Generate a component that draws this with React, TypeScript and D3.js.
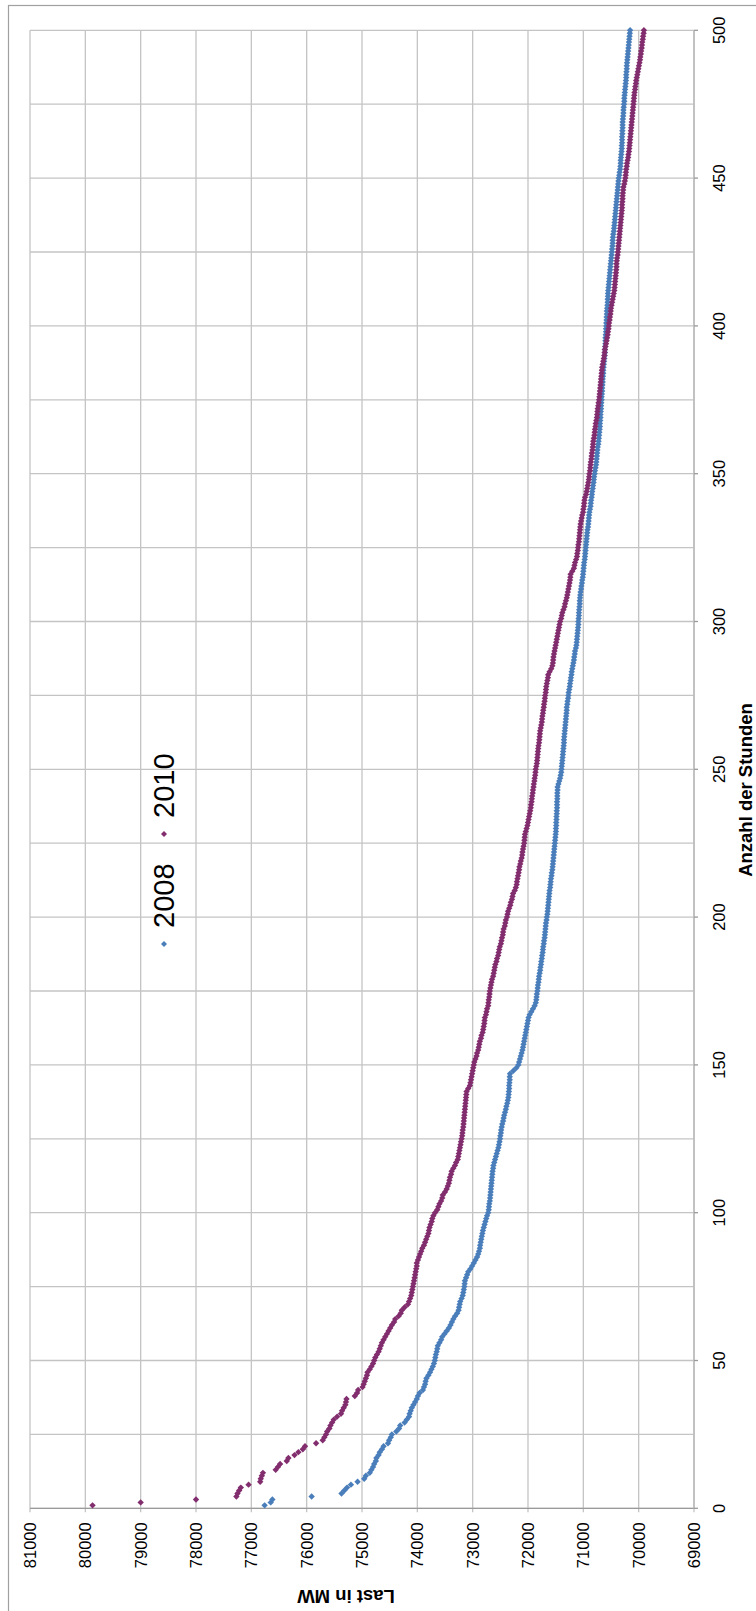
import React, { useEffect, useRef } from "react";
import * as d3 from "d3";

// Last (MW) der 500 höchstbelasteten Stunden, Stunde 1..500
const load2008 = [
  76760, 76650, 76620, 75910, 75370, 75320, 75270, 75200, 75080, 74960,
  74930, 74860, 74830, 74800, 74780, 74750, 74740, 74700, 74680, 74640,
  74610, 74530, 74510, 74480, 74460, 74380, 74330, 74310, 74230, 74190,
  74150, 74140, 74120, 74100, 74070, 74040, 74010, 73990, 73960, 73900,
  73880, 73860, 73850, 73835, 73800, 73770, 73745, 73720, 73700, 73685,
  73675, 73665, 73650, 73640, 73630, 73600, 73570, 73550, 73510, 73470,
  73430, 73400, 73375, 73350, 73320, 73280, 73255, 73245, 73235, 73225,
  73200, 73180, 73170, 73160, 73150, 73145, 73140, 73120, 73100, 73080,
  73040, 73010, 72980, 72950, 72920, 72900, 72885, 72870, 72865, 72855,
  72845, 72835, 72825, 72815, 72800, 72785, 72770, 72755, 72740, 72720,
  72710, 72705, 72700, 72690, 72685, 72680, 72675, 72670, 72665, 72660,
  72655, 72650, 72645, 72640, 72630, 72625, 72610, 72595, 72580, 72565,
  72550, 72535, 72525, 72515, 72505, 72500, 72490, 72485, 72475, 72465,
  72450, 72440, 72430, 72415, 72400, 72390, 72375, 72365, 72355, 72350,
  72345, 72340, 72340, 72335, 72330, 72330, 72325, 72265, 72210, 72175,
  72160, 72145, 72130, 72115, 72100, 72090, 72080, 72070, 72060, 72050,
  72040, 72030, 72020, 72010, 72000, 71990, 71970, 71940, 71910, 71880,
  71860, 71850, 71845, 71840, 71830, 71825, 71820, 71810, 71805, 71800,
  71790, 71780, 71775, 71765, 71760, 71750, 71745, 71735, 71730, 71725,
  71715, 71710, 71700, 71695, 71690, 71685, 71680, 71675, 71665, 71660,
  71650, 71645, 71640, 71635, 71630, 71625, 71620, 71615, 71610, 71600,
  71595, 71590, 71585, 71575, 71570, 71560, 71555, 71550, 71545, 71540,
  71535, 71530, 71525, 71520, 71515, 71510, 71505, 71500, 71495, 71495,
  71490, 71490, 71485, 71485, 71480, 71480, 71475, 71475, 71475, 71470,
  71470, 71470, 71465, 71465, 71450, 71435, 71420, 71410, 71400, 71395,
  71390, 71385, 71380, 71375, 71370, 71365, 71360, 71355, 71350, 71350,
  71345, 71340, 71335, 71330, 71325, 71320, 71315, 71310, 71305, 71300,
  71300, 71290, 71285, 71275, 71270, 71265, 71255, 71245, 71240, 71230,
  71225, 71215, 71210, 71200, 71190, 71180, 71170, 71165, 71155, 71150,
  71135, 71125, 71120, 71115, 71110, 71105, 71100, 71095, 71090, 71090,
  71085, 71080, 71080, 71075, 71070, 71065, 71065, 71060, 71055, 71050,
  71040, 71035, 71025, 71020, 71010, 71005, 71000, 70995, 70990, 70985,
  70975, 70970, 70965, 70960, 70955, 70950, 70945, 70940, 70935, 70930,
  70925, 70915, 70910, 70905, 70900, 70895, 70890, 70880, 70870, 70865,
  70860, 70850, 70845, 70840, 70830, 70825, 70815, 70810, 70805, 70795,
  70790, 70780, 70770, 70765, 70760, 70755, 70750, 70745, 70740, 70730,
  70725, 70720, 70715, 70710, 70705, 70700, 70700, 70695, 70690, 70690,
  70685, 70680, 70680, 70675, 70670, 70670, 70665, 70660, 70660, 70655,
  70650, 70650, 70645, 70640, 70640, 70635, 70630, 70625, 70620, 70615,
  70610, 70610, 70605, 70600, 70600, 70600, 70595, 70590, 70590, 70585,
  70585, 70580, 70580, 70575, 70575, 70570, 70565, 70560, 70560, 70555,
  70555, 70550, 70545, 70540, 70535, 70530, 70525, 70520, 70515, 70510,
  70505, 70500, 70495, 70490, 70485, 70480, 70475, 70470, 70470, 70465,
  70460, 70450, 70445, 70440, 70435, 70430, 70425, 70420, 70415, 70410,
  70405, 70400, 70395, 70390, 70385, 70380, 70375, 70370, 70365, 70360,
  70350, 70345, 70335, 70330, 70325, 70325, 70320, 70315, 70310, 70305,
  70305, 70300, 70300, 70300, 70295, 70295, 70290, 70290, 70290, 70285,
  70280, 70275, 70275, 70270, 70265, 70260, 70260, 70255, 70250, 70245,
  70240, 70235, 70230, 70225, 70225, 70220, 70215, 70215, 70210, 70205,
  70200, 70195, 70190, 70185, 70180, 70175, 70170, 70165, 70160, 70155,
];

const load2010 = [
  79870, 79000, 78000, 77270, 77250, 77220, 77190, 77050, 76840, 76830,
  76810, 76790, 76560, 76520, 76480, 76360, 76330, 76220, 76150, 76070,
  76030, 75830, 75710, 75680, 75650, 75630, 75590, 75570, 75540, 75510,
  75450, 75380, 75360, 75330, 75300, 75290, 75280, 75130, 75090, 75070,
  74990, 74970, 74950, 74930, 74910, 74900, 74860, 74830, 74800, 74780,
  74760, 74730, 74700, 74680, 74660, 74640, 74610, 74580, 74550, 74520,
  74490, 74460, 74420, 74400, 74340, 74300, 74280, 74230, 74170, 74150,
  74130, 74110, 74100, 74090, 74080, 74070, 74060, 74050, 74040, 74030,
  74020, 74010, 74010, 73990, 73970, 73950, 73930, 73910, 73880, 73860,
  73840, 73820, 73800, 73790, 73780, 73760, 73740, 73730, 73710, 73680,
  73640, 73620, 73600, 73570, 73550, 73540, 73500, 73470, 73450, 73430,
  73420, 73410, 73390, 73380, 73350, 73320, 73300, 73270, 73260, 73250,
  73240, 73230, 73220, 73210, 73200, 73190, 73185, 73180, 73170, 73165,
  73160, 73155, 73150, 73145, 73140, 73135, 73130, 73125, 73120, 73115,
  73110, 73080, 73050, 73040, 73030, 73020, 73010, 73000, 72990, 72980,
  72970, 72950, 72930, 72920, 72900, 72890, 72880, 72870, 72850, 72840,
  72820, 72810, 72800, 72790, 72785, 72780, 72760, 72750, 72740, 72720,
  72715, 72710, 72700, 72695, 72690, 72680, 72670, 72660, 72650, 72630,
  72620, 72610, 72600, 72590, 72570, 72560, 72540, 72530, 72520, 72510,
  72490, 72480, 72470, 72455, 72450, 72440, 72420, 72410, 72400, 72380,
  72370, 72360, 72340, 72320, 72310, 72290, 72280, 72270, 72240, 72220,
  72205, 72200, 72190, 72180, 72170, 72160, 72155, 72140, 72130, 72115,
  72105, 72100, 72090, 72080, 72070, 72065, 72060, 72055, 72040, 72025,
  72010, 72000, 71990, 71980, 71970, 71960, 71950, 71945, 71935, 71930,
  71925, 71915, 71910, 71900, 71895, 71885, 71880, 71870, 71865, 71860,
  71850, 71840, 71835, 71830, 71825, 71820, 71815, 71810, 71800, 71795,
  71790, 71785, 71780, 71770, 71760, 71750, 71745, 71740, 71730, 71725,
  71715, 71710, 71700, 71695, 71690, 71680, 71675, 71670, 71660, 71650,
  71640, 71635, 71610, 71580, 71560, 71550, 71545, 71540, 71530, 71520,
  71510, 71500, 71490, 71480, 71470, 71460, 71450, 71440, 71430, 71420,
  71400, 71390, 71380, 71360, 71340, 71330, 71315, 71300, 71290, 71280,
  71270, 71260, 71250, 71240, 71235, 71230, 71200, 71170, 71160, 71150,
  71130, 71115, 71110, 71100, 71095, 71090, 71080, 71075, 71070, 71065,
  71060, 71055, 71050, 71040, 71030, 71020, 71005, 71000, 70990, 70985,
  70980, 70970, 70950, 70940, 70930, 70920, 70910, 70900, 70895, 70890,
  70880, 70875, 70870, 70865, 70855, 70850, 70845, 70835, 70830, 70825,
  70820, 70810, 70800, 70795, 70790, 70780, 70775, 70765, 70755, 70750,
  70745, 70740, 70730, 70725, 70715, 70710, 70705, 70700, 70695, 70690,
  70685, 70680, 70675, 70670, 70665, 70660, 70650, 70640, 70630, 70620,
  70615, 70610, 70600, 70590, 70580, 70570, 70560, 70555, 70545, 70540,
  70535, 70525, 70520, 70510, 70505, 70500, 70490, 70480, 70470, 70460,
  70450, 70440, 70435, 70430, 70425, 70420, 70415, 70410, 70405, 70400,
  70400, 70395, 70390, 70380, 70375, 70370, 70365, 70360, 70355, 70350,
  70345, 70340, 70335, 70330, 70325, 70320, 70315, 70310, 70305, 70300,
  70300, 70295, 70290, 70290, 70285, 70280, 70275, 70260, 70250, 70240,
  70235, 70230, 70225, 70215, 70210, 70200, 70190, 70185, 70175, 70170,
  70165, 70160, 70155, 70150, 70145, 70140, 70135, 70130, 70125, 70120,
  70115, 70110, 70105, 70100, 70095, 70090, 70085, 70080, 70075, 70065,
  70060, 70050, 70045, 70035, 70025, 70015, 70005, 69995, 69985, 69975,
  69970, 69960, 69955, 69945, 69940, 69935, 69925, 69920, 69910, 69905,
];

const seriesNames = ["2008", "2010"];
const seriesColors = ["#4a7ebb", "#822d6e"];
const loadTicks = [81000, 80000, 79000, 78000, 77000, 76000, 75000, 74000, 73000, 72000, 71000, 70000, 69000];
const hourTicks = [0, 50, 100, 150, 200, 250, 300, 350, 400, 450, 500];
const hourGrid = [0, 25, 50, 75, 100, 125, 150, 175, 200, 225, 250, 275, 300, 325, 350, 375, 400, 425, 450, 475, 500];

const FONT = "'Liberation Sans', Arial, sans-serif";

function App() {
  const chartRef = useRef<SVGSVGElement>(null);

  useEffect(() => {
    const svg = d3.select(chartRef.current);
    svg.selectAll("*").remove();

    const width = 756;
    const height = 1611;

    // rotated chart: load runs left->right (high to low), hours bottom->top
    const plotLeft = 30;
    const plotRight = 694;
    const plotTop = 30.3;
    const plotBottom = 1508.3;

    const x = d3.scaleLinear().domain([81000, 69000]).range([plotLeft, plotRight]);
    const y = d3.scaleLinear().domain([0, 500]).range([plotBottom, plotTop]);

    svg.attr("width", width).attr("height", height).attr("viewBox", [0, 0, width, height]);

    svg.append("rect").attr("width", width).attr("height", height).attr("fill", "#fff");

    // outer chart border (only top and left edges are inside the picture)
    svg
      .append("rect")
      .attr("x", 8.5)
      .attr("y", 5.5)
      .attr("width", width + 20)
      .attr("height", height + 20)
      .attr("fill", "none")
      .attr("stroke", "#a0a0a0")
      .attr("stroke-width", 1.2);

    // horizontal grid (hours)
    svg
      .append("g")
      .selectAll("line")
      .data(hourGrid)
      .join("line")
      .attr("x1", plotLeft)
      .attr("x2", plotRight)
      .attr("y1", d => y(d))
      .attr("y2", d => y(d))
      .attr("stroke", "#c4c4c4")
      .attr("stroke-width", 1.3);

    // vertical grid (load)
    svg
      .append("g")
      .selectAll("line")
      .data(loadTicks)
      .join("line")
      .attr("x1", d => x(d))
      .attr("x2", d => x(d))
      .attr("y1", plotTop)
      .attr("y2", plotBottom + 4)
      .attr("stroke", "#c4c4c4")
      .attr("stroke-width", 1.3);

    // axis lines and ticks
    svg
      .append("line")
      .attr("x1", plotLeft)
      .attr("x2", plotRight)
      .attr("y1", plotBottom)
      .attr("y2", plotBottom)
      .attr("stroke", "#9a9a9a")
      .attr("stroke-width", 1.3);
    svg
      .append("line")
      .attr("x1", plotRight)
      .attr("x2", plotRight)
      .attr("y1", plotTop)
      .attr("y2", plotBottom)
      .attr("stroke", "#bdbdbd")
      .attr("stroke-width", 1.6);
    svg
      .append("g")
      .selectAll("line")
      .data(hourTicks)
      .join("line")
      .attr("x1", plotRight)
      .attr("x2", plotRight + 4)
      .attr("y1", d => y(d))
      .attr("y2", d => y(d))
      .attr("stroke", "#9a9a9a")
      .attr("stroke-width", 1.3);

    // load tick labels, rotated
    svg
      .append("g")
      .selectAll("text")
      .data(loadTicks)
      .join("text")
      .attr("transform", d => `translate(${x(d)},${plotBottom + 14}) rotate(-90)`)
      .attr("text-anchor", "end")
      .attr("dominant-baseline", "central")
      .attr("font-family", FONT)
      .attr("font-size", 16.5)
      .attr("fill", "#000")
      .text(d => d);

    // hour tick labels, rotated
    svg
      .append("g")
      .selectAll("text")
      .data(hourTicks)
      .join("text")
      .attr("transform", d => `translate(${plotRight + 25},${y(d)}) rotate(-90)`)
      .attr("text-anchor", "middle")
      .attr("dominant-baseline", "central")
      .attr("font-family", FONT)
      .attr("font-size", 16.5)
      .attr("fill", "#000")
      .text(d => d);

    // axis titles
    svg
      .append("text")
      .attr("transform", `translate(${plotRight + 51},790) rotate(-90)`)
      .attr("text-anchor", "middle")
      .attr("dominant-baseline", "central")
      .attr("font-family", FONT)
      .attr("font-size", 18.5)
      .attr("font-weight", "bold")
      .attr("fill", "#000")
      .text("Anzahl der Stunden");

    svg
      .append("text")
      .attr("transform", `translate(346,1596) rotate(180)`)
      .attr("text-anchor", "middle")
      .attr("dominant-baseline", "central")
      .attr("font-family", FONT)
      .attr("font-size", 18.5)
      .attr("font-weight", "bold")
      .attr("fill", "#000")
      .text("Last in MW");

    const diamond = (r: number) => `M0,${-r}L${r},0L0,${r}L${-r},0Z`;

    // markers
    [load2008, load2010].forEach((values, i) => {
      svg
        .append("g")
        .attr("fill", seriesColors[i])
        .selectAll("path")
        .data(values)
        .join("path")
        .attr("transform", (d, j) => `translate(${x(d)},${y(j + 1)})`)
        .attr("d", diamond(3.2));
    });

    // legend (rotated)
    const legendX = 164;
    const legendEntries = [
      { marker: 944, text: 928 },
      { marker: 834, text: 818 },
    ];
    legendEntries.forEach((e, i) => {
      svg
        .append("path")
        .attr("transform", `translate(${legendX},${e.marker})`)
        .attr("d", diamond(3))
        .attr("fill", seriesColors[i]);
      svg
        .append("text")
        .attr("transform", `translate(${legendX},${e.text}) rotate(-90)`)
        .attr("text-anchor", "start")
        .attr("dominant-baseline", "central")
        .attr("font-family", FONT)
        .attr("font-size", 29)
        .attr("fill", "#000")
        .text(seriesNames[i]);
    });
  }, []);

  return (
    <svg
      ref={chartRef}
      style={{ position: "absolute", left: 0, top: 0, display: "block" }}
    />
  );
}

export default App;
